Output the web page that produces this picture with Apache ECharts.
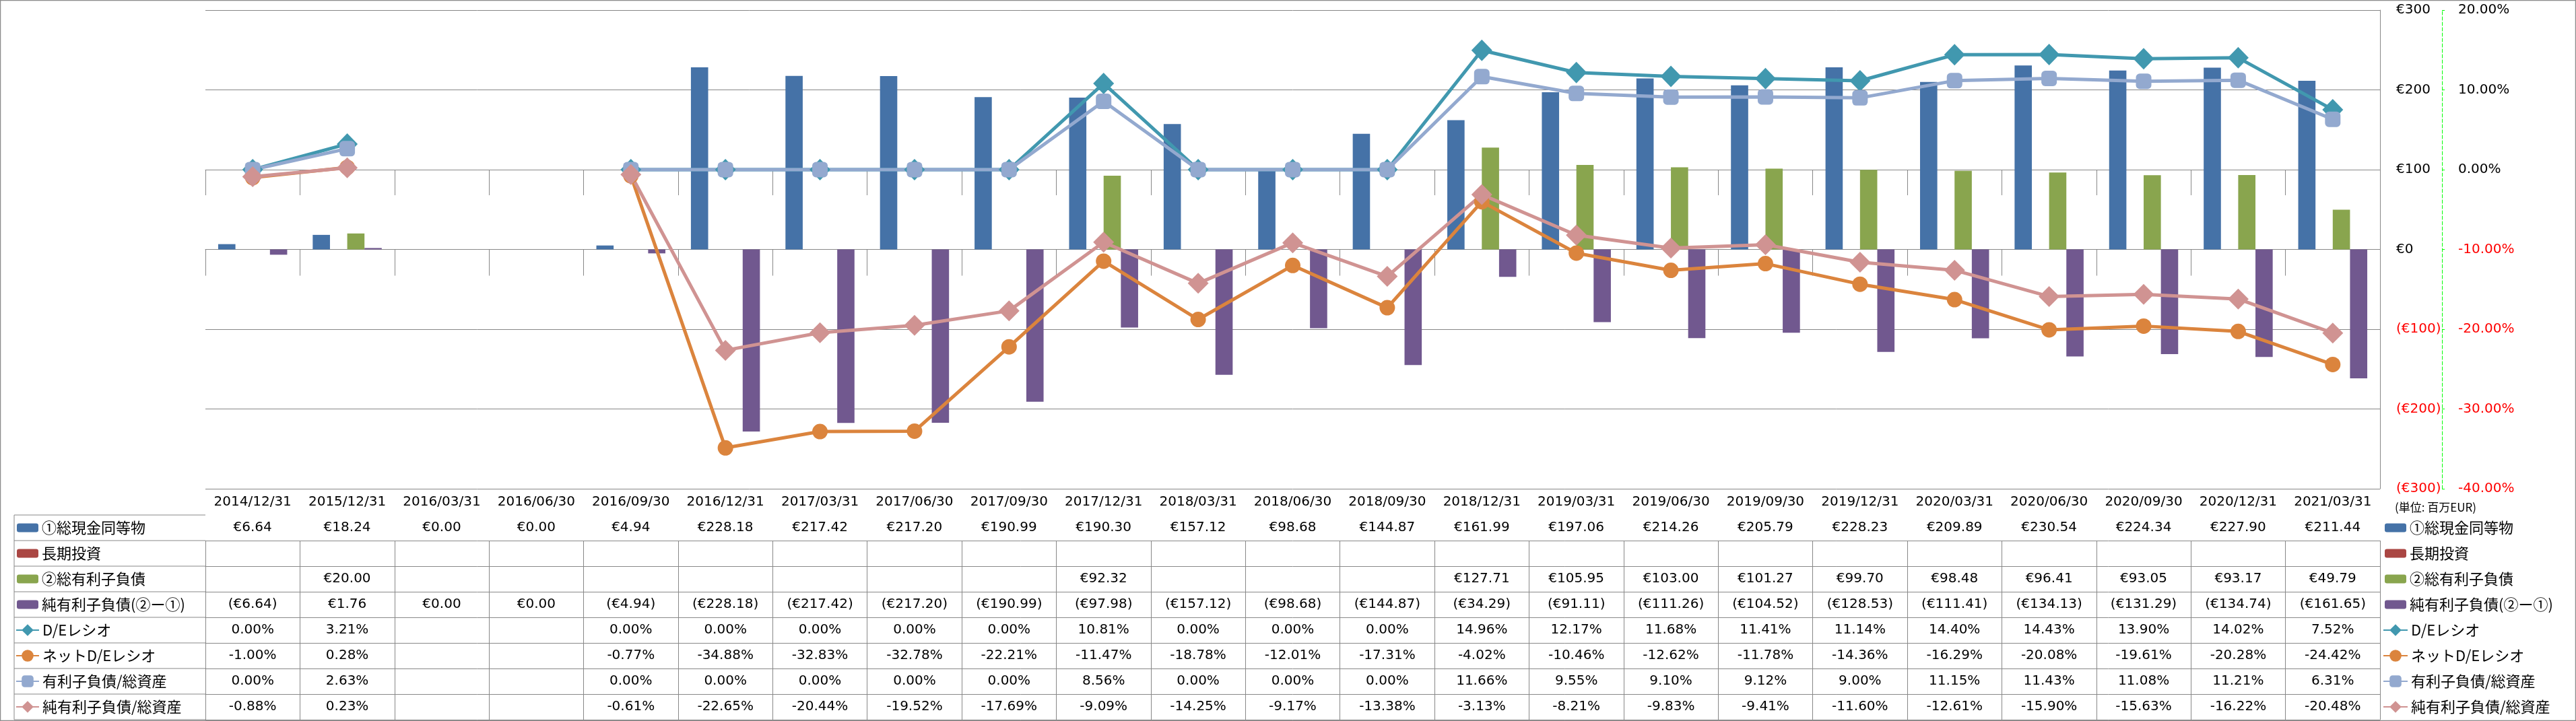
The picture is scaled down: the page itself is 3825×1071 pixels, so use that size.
<!DOCTYPE html>
<html>
<head>
<meta charset="utf-8">
<script src="https://cdn.jsdelivr.net/npm/echarts@6/dist/echarts.min.js"></script>
<style>
html,body{margin:0;padding:0;background:#fff;}
#chart{width:3825px;height:1071px;}
</style>
</head>
<body>
<div id="chart"></div>
<script>
// ---------- data ----------
const categories = ['2014/12/31','2015/12/31','2016/03/31','2016/06/30','2016/09/30','2016/12/31','2017/03/31','2017/06/30','2017/09/30','2017/12/31','2018/03/31','2018/06/30','2018/09/30','2018/12/31','2019/03/31','2019/06/30','2019/09/30','2019/12/31','2020/03/31','2020/06/30','2020/09/30','2020/12/31','2021/03/31'];
const cashValues = [6.64, 18.24, 0.00, 0.00, 4.94, 228.18, 217.42, 217.20, 190.99, 190.30, 157.12, 98.68, 144.87, 161.99, 197.06, 214.26, 205.79, 228.23, 209.89, 230.54, 224.34, 227.90, 211.44];
const investValues = [null, null, null, null, null, null, null, null, null, null, null, null, null, null, null, null, null, null, null, null, null, null, null];
const debtValues = [null, 20.00, null, null, null, null, null, null, null, 92.32, null, null, null, 127.71, 105.95, 103.00, 101.27, 99.70, 98.48, 96.41, 93.05, 93.17, 49.79];
const netDebtValues = [-6.64, 1.76, 0.00, 0.00, -4.94, -228.18, -217.42, -217.20, -190.99, -97.98, -157.12, -98.68, -144.87, -34.29, -91.11, -111.26, -104.52, -128.53, -111.41, -134.13, -131.29, -134.74, -161.65];
const deRatio = [0.00, 3.21, null, null, 0.00, 0.00, 0.00, 0.00, 0.00, 10.81, 0.00, 0.00, 0.00, 14.96, 12.17, 11.68, 11.41, 11.14, 14.40, 14.43, 13.90, 14.02, 7.52];
const netDeRatio = [-1.00, 0.28, null, null, -0.77, -34.88, -32.83, -32.78, -22.21, -11.47, -18.78, -12.01, -17.31, -4.02, -10.46, -12.62, -11.78, -14.36, -16.29, -20.08, -19.61, -20.28, -24.42];
const debtToAssets = [0.00, 2.63, null, null, 0.00, 0.00, 0.00, 0.00, 0.00, 8.56, 0.00, 0.00, 0.00, 11.66, 9.55, 9.10, 9.12, 9.00, 11.15, 11.43, 11.08, 11.21, 6.31];
const netDebtToAssets = [-0.88, 0.23, null, null, -0.61, -22.65, -20.44, -19.52, -17.69, -9.09, -14.25, -9.17, -13.38, -3.13, -8.21, -9.83, -9.41, -11.60, -12.61, -15.90, -15.63, -16.22, -20.48];
const seriesNames = ['①総現金同等物','長期投資','②総有利子負債','純有利子負債(②ー①)','D/Eレシオ','ネットD/Eレシオ','有利子負債/総資産','純有利子負債/総資産'];
const unitLabel = '(単位: 百万EUR)';

// ---------- style / layout ----------
const colors = ['#4572A7','#AA4643','#89A54E','#71588F','#4198AF','#DB843D','#93A9CF','#D09392'];
const FONT = "'DejaVu Sans','Noto Sans CJK JP',sans-serif";
const LBL_FONT = "'Noto Sans CJK JP','DejaVu Sans',sans-serif";
const W = 3825, H = 1071;
const gLeft = 305, gRight = 3534, gTop = 15, gBottom = 726;
const headerH = 39, rowH = 38;
const tableLeft = 21;
const lineCol = '#888888';

const fmtMoney = v => v == null ? '' : (v < 0 ? '(€' + (-v).toFixed(2) + ')' : '€' + v.toFixed(2));
const fmtPct = v => v == null ? '' : v.toFixed(2) + '%';
const rowTexts = [
  cashValues.map(fmtMoney), investValues.map(fmtMoney), debtValues.map(fmtMoney), netDebtValues.map(fmtMoney),
  deRatio.map(fmtPct), netDeRatio.map(fmtPct), debtToAssets.map(fmtPct), netDebtToAssets.map(fmtPct)
];

// ---------- axes building the data table ----------
const xAxes = [];
xAxes.push({
  type: 'category', data: categories, position: 'bottom', offset: 0, boundaryGap: true,
  axisLine: {show: true, lineStyle: {color: lineCol, width: 1}},
  axisTick: {show: true, length: headerH, interval: 0, lineStyle: {color: lineCol, width: 1}},
  axisLabel: {show: true, interval: 0, margin: headerH / 2, verticalAlign: 'middle', fontSize: 20, fontFamily: FONT, color: '#000'},
  splitLine: {show: false}
});
rowTexts.forEach((texts, i) => {
  xAxes.push({
    type: 'category', data: categories, position: 'bottom', offset: headerH + rowH * i, boundaryGap: true,
    axisLine: {show: true, lineStyle: {color: lineCol, width: 1}},
    axisTick: {show: true, length: rowH, interval: 0, lineStyle: {color: lineCol, width: 1}},
    axisLabel: {show: true, interval: 0, margin: rowH / 2, verticalAlign: 'middle', fontSize: 20, fontFamily: FONT, color: '#000',
      formatter: (val, idx) => texts[idx]},
    splitLine: {show: false}
  });
});
xAxes.push({
  type: 'category', data: categories, position: 'bottom', offset: headerH + rowH * rowTexts.length, boundaryGap: true,
  axisLine: {show: true, lineStyle: {color: lineCol, width: 1}},
  axisTick: {show: false}, axisLabel: {show: false}, splitLine: {show: false}
});

// ---------- left column lines of the table, frame, unit ----------
const graphics = [];
const tTop = gBottom + headerH, tBottom = gBottom + headerH + rowH * rowTexts.length;
for (let k = 0; k <= rowTexts.length; k++) {
  const y = tTop + rowH * k;
  graphics.push({type: 'line', shape: {x1: tableLeft, y1: y, x2: gLeft, y2: y}, style: {stroke: lineCol, lineWidth: 1}, silent: true});
}
graphics.push({type: 'line', shape: {x1: tableLeft, y1: tTop, x2: tableLeft, y2: tBottom}, style: {stroke: lineCol, lineWidth: 1}, silent: true});
graphics.push({type: 'rect', shape: {x: 0.5, y: 0.5, width: W - 1, height: H - 1}, style: {fill: 'none', stroke: '#8c8c8c', lineWidth: 1.5}, silent: true});
graphics.push({type: 'text', x: 3556, y: 754, style: {text: unitLabel, font: "17px " + LBL_FONT, fill: '#000', verticalAlign: 'middle', align: 'left'}, silent: true});

// ---------- legends (right side + table row headers) ----------
const textStyle = {fontSize: 22, lineHeight: 24, fontFamily: LBL_FONT, color: '#000'};
const barNames = seriesNames.slice(0, 4), lineNames = seriesNames.slice(4);
const mkLegend = (left, top, names, w, h) => ({
  orient: 'vertical', left: left, top: top, itemWidth: w, itemHeight: h, itemGap: rowH - 24, padding: 0,
  data: names, textStyle: textStyle
});
const row1Top = tTop + rowH / 2 - 12, row5Top = tTop + rowH * 4 + rowH / 2 - 12;
const legends = [
  mkLegend(3541, row1Top, barNames, 32, 13),
  mkLegend(3538, row5Top, lineNames, 36, 22),
  mkLegend(25, row1Top, barNames, 32, 13),
  mkLegend(23, row5Top, lineNames, 34, 22)
];

const barCommon = {type: 'bar', barGap: '0%', barCategoryGap: '27%', xAxisIndex: 0, yAxisIndex: 0};
const lineCommon = {type: 'line', xAxisIndex: 0, yAxisIndex: 1, connectNulls: false, z: 5};

const option = {
  animation: false,
  backgroundColor: '#fff',
  grid: {left: gLeft, right: W - gRight, top: gTop, bottom: H - gBottom, containLabel: false, outerBoundsMode: 'none'},
  legend: legends,
  xAxis: xAxes,
  yAxis: [
    {
      type: 'value', position: 'right', min: -300, max: 300, interval: 100,
      axisLine: {show: true, lineStyle: {color: lineCol, width: 1}},
      axisTick: {show: false},
      splitLine: {show: true, lineStyle: {color: '#868686', width: 1}},
      axisLabel: {margin: 24, fontSize: 20, fontFamily: FONT,
        formatter: v => v < 0 ? '(€' + (-v) + ')' : '€' + v,
        color: v => Number(v) < 0 ? '#FF0000' : '#000000'}
    },
    {
      type: 'value', position: 'right', offset: 92, min: -40, max: 20, interval: 10,
      axisLine: {show: true, lineStyle: {color: '#00FF00', width: 1, type: [5, 3]}},
      axisTick: {show: true, length: 8, lineStyle: {color: '#00FF00', width: 1, type: [4, 4]}},
      splitLine: {show: false},
      axisLabel: {margin: 24, fontSize: 20, fontFamily: FONT,
        formatter: v => Number(v).toFixed(2) + '%',
        color: v => Number(v) < 0 ? '#FF0000' : '#000000'}
    }
  ],
  graphic: graphics,
  series: [
    Object.assign({name: seriesNames[0], data: cashValues, itemStyle: {color: colors[0]}}, barCommon),
    Object.assign({name: seriesNames[1], data: investValues, itemStyle: {color: colors[1]}}, barCommon),
    Object.assign({name: seriesNames[2], data: debtValues, itemStyle: {color: colors[2]}}, barCommon),
    Object.assign({name: seriesNames[3], data: netDebtValues, itemStyle: {color: colors[3]}}, barCommon),
    Object.assign({name: seriesNames[4], data: deRatio, symbol: 'diamond', symbolSize: [31, 32], itemStyle: {color: colors[4]}, lineStyle: {width: 5, color: colors[4]}}, lineCommon),
    Object.assign({name: seriesNames[5], data: netDeRatio, symbol: 'circle', symbolSize: 23, itemStyle: {color: colors[5]}, lineStyle: {width: 5, color: colors[5]}}, lineCommon),
    Object.assign({name: seriesNames[6], data: debtToAssets, symbol: 'roundRect', symbolSize: 23, itemStyle: {color: colors[6]}, lineStyle: {width: 5, color: colors[6]}}, lineCommon),
    Object.assign({name: seriesNames[7], data: netDebtToAssets, symbol: 'diamond', symbolSize: 31, itemStyle: {color: colors[7]}, lineStyle: {width: 5, color: colors[7]}}, lineCommon)
  ]
};

const chart = echarts.init(document.getElementById('chart'), null, {renderer: 'canvas', width: W, height: H});
chart.setOption(option);
</script>
</body>
</html>
